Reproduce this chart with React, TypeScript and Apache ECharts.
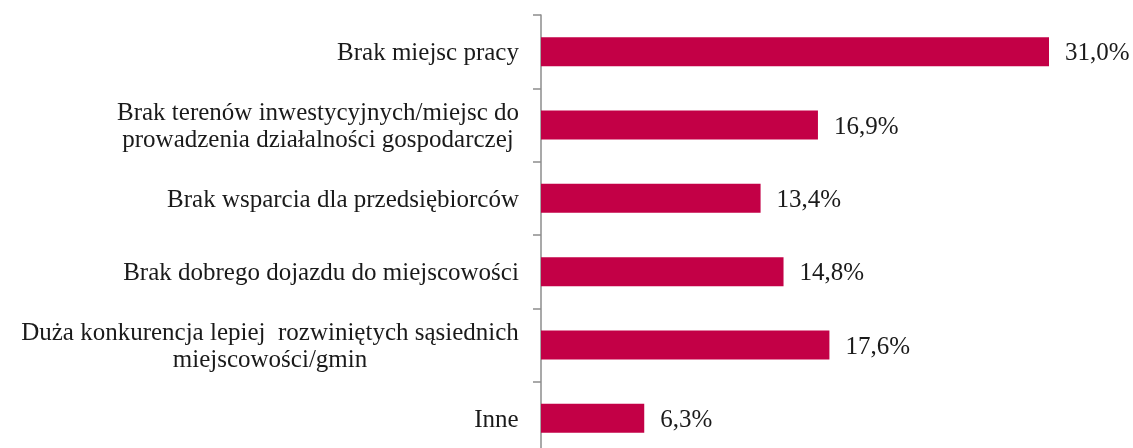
import React, { useEffect, useRef } from "react";
import * as echarts from "echarts";

const categories: string[] = [
  "Brak miejsc pracy",
  "Brak terenów inwestycyjnych/miejsc do\nprowadzenia działalności gospodarczej",
  "Brak wsparcia dla przedsiębiorców",
  "Brak dobrego dojazdu do miejscowości",
  "Duża konkurencja lepiej  rozwiniętych sąsiednich\nmiejscowości/gmin",
  "Inne",
];
const values: number[] = [31.0, 16.9, 13.4, 14.8, 17.6, 6.3];

const FONT_FAMILY = "'Liberation Serif', serif";
const FONT_SIZE = 25;

function measure(text: string): number {
  const c = document.createElement("canvas");
  const ctx = c.getContext("2d");
  if (!ctx) return text.length * FONT_SIZE * 0.45;
  ctx.font = `${FONT_SIZE}px ${FONT_FAMILY}`;
  return ctx.measureText(text).width;
}

export default function App() {
  const ref = useRef<HTMLDivElement>(null);
  useEffect(() => {
    if (!ref.current) return;
    const chart = echarts.init(ref.current, undefined, { renderer: "svg" });
    const rich: Record<string, any> = {};
    categories.forEach((cat, i) => {
      const lines = cat.split("\n");
      const w = Math.ceil(Math.max(...lines.map(measure)));
      rich["c" + i] = {
        width: w,
        align: "center",
        fontFamily: FONT_FAMILY,
        fontSize: FONT_SIZE,
        color: "#1a1a1a",
        lineHeight: 27,
      };
    });
    chart.setOption({
      animation: false,
      grid: {
        left: 541,
        top: 15,
        width: 508,
        height: 440,
        containLabel: false,
        outerBoundsMode: "none",
      },
      xAxis: {
        type: "value",
        min: 0,
        max: 31,
        show: false,
        splitLine: { show: false },
      },
      yAxis: {
        type: "category",
        inverse: true,
        data: categories,
        axisLine: { show: true, lineStyle: { color: "#8c8c8c", width: 1.5 } },
        axisTick: { show: true, length: 8, lineStyle: { color: "#8c8c8c", width: 1.5 } },
        axisLabel: {
          margin: 22,
          align: "right",
          formatter: (v: string) => {
            const i = categories.indexOf(v);
            return v
              .split("\n")
              .map((l) => `{c${i}|${l}}`)
              .join("\n");
          },
          rich,
        },
      },
      series: [
        {
          type: "bar",
          data: values,
          barWidth: 29,
          itemStyle: { color: "#C30046" },
          label: {
            show: true,
            position: "right",
            distance: 16,
            fontFamily: FONT_FAMILY,
            fontSize: FONT_SIZE,
            color: "#1a1a1a",
            formatter: (p: any) => p.value.toFixed(1).replace(".", ",") + "%",
          },
        },
      ],
    });
    return () => chart.dispose();
  }, []);
  return (
    <div
      ref={ref}
      style={{ position: "fixed", left: 0, top: 0, width: 1133, height: 448 }}
    />
  );
}
